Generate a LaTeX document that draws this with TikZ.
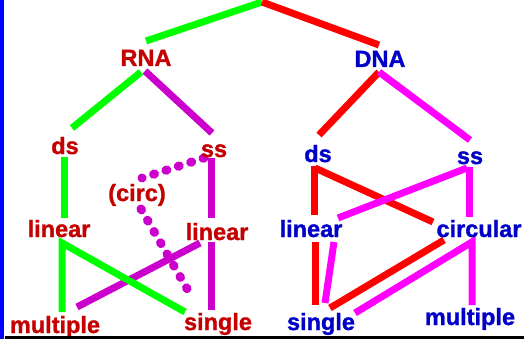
\documentclass[tikz,border=0pt]{standalone}
\usepackage{fontspec}
\setmainfont{Liberation Sans}[BoldFeatures={FakeBold=1.2}]
\pgfdeclarelayer{wires}
\pgfsetlayers{wires,main}
\definecolor{rnatext}{HTML}{C40000}
\definecolor{dnatext}{HTML}{0000C8}
\definecolor{lgreen}{HTML}{00FF00}
\definecolor{lred}{HTML}{FF0000}
\definecolor{lmag}{HTML}{FF00FF}
\definecolor{dmag}{HTML}{CC00CC}
\begin{document}
\begin{tikzpicture}[x=1pt,y=-1pt,
  lbl/.style={anchor=base, inner sep=0pt, font=\fontsize{23.5}{28}\selectfont\bfseries},
  rna/.style={lbl, text=rnatext},
  dna/.style={lbl, text=dnatext},
  wire/.style={line width=7pt, line cap=butt, line join=miter},
  gwire/.style={wire, draw=lgreen},
  rwire/.style={wire, draw=lred},
  mwire/.style={wire, draw=lmag},
  dwire/.style={wire, draw=dmag},
  dotwire/.style={draw=dmag, line width=9pt, line cap=round, dash pattern=on 1pt off 12pt}]

\useasboundingbox (0,0) rectangle (524,339);

% labels
\node[rna] (RNA)   at (146,66)  {RNA};
\node[dna] (DNA)   at (380,67)  {DNA};
\node[rna] (dsR)   at (65,154)  {ds};
\node[rna] (ssR)   at (214,157) {ss};
\node[dna] (dsD)   at (318,162) {ds};
\node[dna] (ssD)   at (470,164) {ss};
\node[rna] (circ)  at (137,201) {(circ)};
\node[rna] (linL)  at (59,237)  {linear};
\node[rna] (linR)  at (217,240) {linear};
\node[dna] (linD)  at (311,237) {linear};
\node[dna] (circD) at (479,237) {circular};
\node[rna] (multR) at (55,333)  {multiple};
\node[rna] (singR) at (218,330) {single};
\node[dna] (singD) at (321,330) {single};
\node[dna] (multD) at (470,325) {multiple};
\coordinate (top) at (262,2);

% frame: blue edge on the left, black rule at the bottom
\fill[blue] (0,0) rectangle (4,339);
\fill[black] (5,336) rectangle (524,339);

\begin{pgfonlayer}{wires}
  \fill[white] (0,0) rectangle (524,339);
  % root
  \draw[gwire] (top) -- ([shift={(0,-25)}]RNA.base);
  \draw[rwire] (top) -- ([shift={(-1,-22)}]DNA.base);

  % RNA branch
  \draw[dwire] ([shift={(-1,5)}]RNA.base) -- ([shift={(-2,-24)}]ssR.base);
  \draw[gwire] ([shift={(-5,6)}]RNA.base) -- ([shift={(7,-26)}]dsR.base);
  \draw[gwire] ([shift={(-1,3)}]dsR.base) -- ([shift={(5,-19)}]linL.base);
  \draw[dotwire] ([shift={(-10,1)}]ssR.base) -- ([shift={(5,-23)}]circ.base);
  \draw[dotwire] ([shift={(4,8)}]circ.base) -- ([shift={(-25,-31)}]singR.base);
  \draw[dwire] ([shift={(-3,1)}]ssR.base) -- ([shift={(-6,-22)}]linR.base);
  \draw[dwire] ([shift={(-6,2)}]linR.base) -- ([shift={(-7,-20)}]singR.base);
  \draw[dwire] ([shift={(-17,3)}]linR.base) -- ([shift={(22,-26)}]multR.base);
  \draw[gwire] ([shift={(7,-21)}]multR.base) -- ([shift={(3,6)}]linL.base)
               -- ([shift={(-33,-18)}]singR.base);

  % DNA branch
  \draw[rwire] ([shift={(-1,5)}]DNA.base) -- ([shift={(1,-27)}]dsD.base);
  \draw[mwire] ([shift={(-1,5)}]DNA.base) -- ([shift={(0,-24)}]ssD.base);
  \draw[rwire] ([shift={(-4,4)}]dsD.base) -- ([shift={(3,-22)}]linD.base);
  \draw[rwire] ([shift={(-3,6)}]dsD.base) -- ([shift={(-46,-15)}]circD.base);
  \draw[mwire] ([shift={(-1,3)}]ssD.base) -- ([shift={(-10,-20)}]circD.base);
  \draw[mwire] ([shift={(-3,4)}]ssD.base) -- ([shift={(27,-19)}]linD.base);
  \draw[rwire] ([shift={(4,5)}]linD.base) -- ([shift={(-6,-25)}]singD.base);
  \draw[mwire] ([shift={(23,5)}]linD.base) -- ([shift={(4,-27)}]singD.base);
  \draw[rwire] ([shift={(-35,3)}]circD.base) -- ([shift={(9,-22)}]singD.base);
  \draw[mwire] ([shift={(2,-20)}]multD.base) -- ([shift={(-7,5)}]circD.base)
               -- ([shift={(34,-17)}]singD.base);
\end{pgfonlayer}
\end{tikzpicture}
\end{document}
